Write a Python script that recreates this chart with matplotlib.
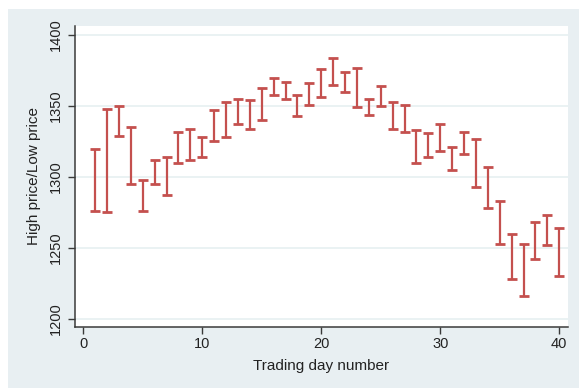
import matplotlib
matplotlib.use("Agg")
import matplotlib.pyplot as plt
from matplotlib.patches import Rectangle
import numpy as np

days = list(range(1, 41))
high = [1320, 1348, 1350, 1335, 1298, 1312, 1314, 1332, 1334, 1328,
        1347, 1353, 1355, 1354, 1363, 1370, 1367, 1358, 1366, 1376,
        1384, 1374, 1377, 1355, 1364, 1353, 1351, 1333, 1331, 1337,
        1321, 1332, 1327, 1307, 1283, 1260, 1253, 1268, 1273, 1264]
low = [1276, 1275, 1329, 1295, 1276, 1295, 1287, 1310, 1312, 1314,
       1325, 1328, 1337, 1334, 1340, 1358, 1355, 1343, 1351, 1356,
       1365, 1360, 1349, 1344, 1350, 1334, 1332, 1310, 1314, 1318,
       1305, 1316, 1293, 1278, 1253, 1228, 1216, 1242, 1252, 1230]
xticks = [0, 10, 20, 30, 40]
yticks = [1200, 1250, 1300, 1350, 1400]

plt.rcParams['font.family'] = ['Liberation Sans', 'DejaVu Sans']

W, H = 579, 388
fig = plt.figure(figsize=(W / 100, H / 100), dpi=100)
fig.patch.set_facecolor('white')
bg = '#e8eff2'
fig.patches.append(Rectangle((8 / W, 0), 1 - 8 / W, (H - 9) / H,
                             transform=fig.transFigure, facecolor=bg,
                             edgecolor='none', zorder=-10))

ax = fig.add_axes([74.7 / W, 1 - 326.7 / H, (568.3 - 74.7) / W, (326.7 - 26) / H])
ax.set_facecolor('white')

d = np.array(days, dtype=float)
hi = np.array(high, dtype=float)
lo = np.array(low, dtype=float)
mid = (hi + lo) / 2
color = '#c4504e'
ax.errorbar(d, mid, yerr=[mid - lo, hi - mid], fmt='none', ecolor=color,
            elinewidth=1.6, capsize=3.9, capthick=2.0, zorder=3)

ax.set_xlim(-0.72, 40.76)
ax.set_ylim(1194.4, 1406.4)
ax.set_xticks(xticks)
ax.set_yticks(yticks)
ax.set_yticklabels([str(v) for v in yticks], rotation=90, va='center')

for v in yticks:
    ax.axhline(v, color='#eaf2f3', lw=1.4, zorder=1)

for s in ['top', 'right']:
    ax.spines[s].set_visible(False)
for s in ['left', 'bottom']:
    ax.spines[s].set_color('#3a3a3a')
    ax.spines[s].set_linewidth(1.1)

ax.tick_params(axis='both', direction='out', length=4.8, width=1.0,
               color='#3a3a3a', labelsize=10.5, labelcolor='#222222')
ax.tick_params(axis='y', pad=3.5)
ax.tick_params(axis='x', pad=2.5)

ax.set_xlabel('Trading day number', fontsize=11, color='#222222', labelpad=6)
ax.set_ylabel('High price/Low price', fontsize=11, color='#222222', labelpad=6)

fig.savefig('out.png', dpi=100)
